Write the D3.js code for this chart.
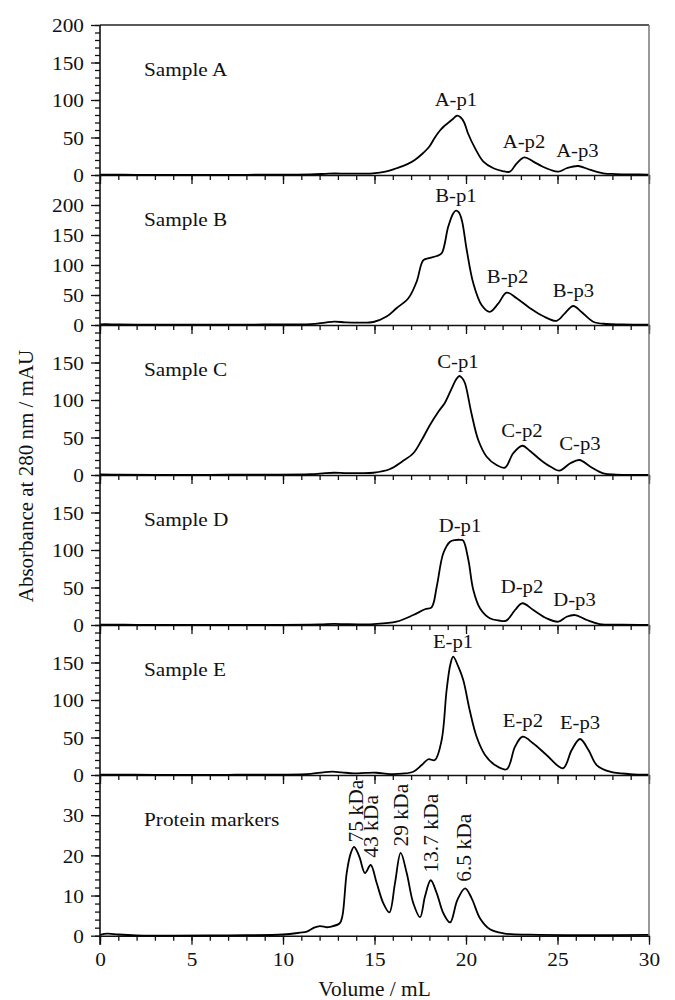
<!DOCTYPE html>
<html>
<head>
<meta charset="utf-8">
<script src="https://cdn.jsdelivr.net/npm/d3@7"></script>
<style>
body { margin: 0; background: #fff; }
text { font-family: "Liberation Serif", "Times New Roman", serif; fill: #111; }
</style>
</head>
<body>
<svg id="chart" width="675" height="1000"></svg>
<script>
// chromatogram traces: [volume (mL), absorbance (mAU)]
const sampleA = [[0,0.5],[2,0.3],[5,0.2],[8,0.3],[10,0.5],[11.5,0.8],[12.3,1.5],[12.8,2],[13.4,1.8],[14,1.8],[14.9,2.2],[15.6,4.5],[16.2,9],[16.8,14.5],[17.2,20],[17.6,28],[18.0,38],[18.3,50],[18.6,60],[18.8,65],[19.0,69],[19.25,74],[19.5,79],[19.7,77],[19.9,70],[20.1,56],[20.5,35.5],[20.95,17.8],[21.5,9],[22.0,5.3],[22.4,4.4],[22.77,15.6],[23.19,23.6],[23.68,17.8],[24.2,11],[24.6,7],[25.05,4.4],[25.5,9],[26.14,12],[26.8,6.7],[27.5,2.2],[28.2,1.3],[29,0.8],[30,0.5]];
const sampleB = [[0,1],[0.3,1.5],[1,0.8],[3,0.5],[6,0.5],[9,0.8],[11.5,1.5],[12.3,4],[12.8,5.5],[13.4,4.5],[14,4],[14.94,5],[15.66,14],[16.2,28],[16.85,44.5],[17.3,72],[17.67,108],[18.03,112],[18.4,115],[18.67,119.5],[19.03,164],[19.3,186],[19.45,190.5],[19.6,188],[19.77,175],[20.04,125],[20.4,69.5],[20.86,33],[21.3,22],[21.77,36],[22.22,54],[22.77,44.5],[23.5,28],[24.2,15],[24.95,7],[25.4,19.5],[25.86,31.7],[26.3,22],[26.95,5.5],[27.7,1.7],[28.5,1],[30,0.5]];
const sampleC = [[0,0.8],[1,0.5],[3,0.3],[6,0.3],[9,0.5],[11.5,1],[12.3,2.5],[12.8,3],[13.4,2.5],[14,2.5],[14.94,3],[15.85,8],[16.5,17.8],[17.12,29],[17.58,46.7],[18.03,66.7],[18.49,84.4],[18.85,96.4],[19.22,115.6],[19.45,127],[19.64,132],[19.8,129],[19.95,122],[20.3,82],[20.67,46.7],[21.13,24.4],[21.67,13.3],[22.13,9.8],[22.58,29],[23.08,39],[23.5,32],[24.2,17.8],[24.7,10],[25.1,5.8],[25.7,15.6],[26.2,20],[26.8,11],[27.5,2.2],[28.2,0.5],[30,0.3]];
const sampleD = [[0,0.5],[2,0.3],[6,0.2],[10,0.3],[12,0.8],[12.8,1.5],[13.5,1],[14.94,1.3],[16.2,4.4],[17.12,13.3],[17.76,21],[18.12,23.6],[18.4,51],[18.76,95.6],[19.13,111],[19.4,113.3],[19.7,113.5],[19.85,112.4],[20.13,86.7],[20.4,46.7],[20.77,22],[21.3,9],[21.8,6],[22.2,5.8],[22.68,20],[23.08,29],[23.68,20],[24.4,9],[25.05,4.4],[25.5,11],[25.96,13.3],[26.6,6.7],[27.3,1.3],[28.5,0.4],[30,0.2]];
const sampleE = [[0,0.5],[3,0.3],[7,0.3],[10,0.5],[11.5,1.5],[12.2,3.5],[12.7,4.4],[13.2,3.5],[13.9,2.2],[14.5,2.8],[15.1,3],[15.85,1.3],[16.5,1.8],[17.12,4.4],[17.58,13.3],[17.94,21],[18.3,20],[18.67,46.7],[18.94,113],[19.15,148],[19.3,157.7],[19.58,144.4],[19.85,126.7],[20.2,86.7],[20.58,51],[21.04,26.7],[21.58,13.3],[22.22,7.6],[22.68,37.8],[23.09,51],[23.68,42],[24.4,26.7],[25.3,9],[25.77,33],[26.23,48],[26.7,33],[27.14,13.3],[27.87,4.4],[28.96,1.3],[30,0.5]];
const markers = [[0,0.2],[0.4,0.5],[1,0.3],[2,0.1],[4,0],[7,0.1],[10,0.3],[10.93,0.75],[11.3,1],[11.7,2],[12.02,2.4],[12.4,2.1],[12.57,2.2],[13.1,3.1],[13.25,5],[13.48,15.6],[13.7,20.5],[13.88,22.1],[14.05,21],[14.2,19.3],[14.48,15.6],[14.79,17.6],[15.12,13.1],[15.48,8.1],[15.81,5.8],[16.12,13.1],[16.43,20.6],[16.76,15.6],[17.12,8.1],[17.49,4.6],[17.76,9.8],[18.07,13.8],[18.4,10.6],[18.76,5.6],[19.13,3.3],[19.53,8.9],[19.95,11.8],[20.31,9.3],[20.77,4.3],[21.31,1.6],[22.04,0.6],[23.5,0.25],[30,0.2]];

// peak labels: [text, volume, absorbance at baseline of label]
const peaksA = [["A-p1",19.45,92],["A-p2",23.17,35.6],["A-p3",26.09,24.4]];
const peaksB = [["B-p1",19.45,205.5],["B-p2",22.27,69.5],["B-p3",25.87,47.2]];
const peaksC = [["C-p1",19.56,143],["C-p2",23.06,51],["C-p3",26.23,33.3]];
const peaksD = [["D-p1",19.67,124.4],["D-p2",23.06,42.3],["D-p3",25.93,25.3]];
const peaksE = [["E-p1",19.29,168.9],["E-p2",23.11,63.6],["E-p3",26.23,60.9]];
// marker labels (rotated): [text, volume, absorbance where text starts]
const markerLabels = [["75 kDa",14.37,23.2],["43 kDa",15.19,19.4],["29 kDa",16.83,22.2],["13.7 kDa",18.47,15.7],["6.5 kDa",20.27,13.4]];

const sampleNames = ["Sample A","Sample B","Sample C","Sample D","Sample E","Protein markers"];
const yMax = [200, 250, 200, 200, 200, 40];
const yTicks = [[0,50,100,150,200],[0,50,100,150,200],[0,50,100,150],[0,50,100,150],[0,50,100,150],[0,10,20,30]];
const yMinor = [10, 12.5, 10, 10, 10, 2];
const xTicks = [0,5,10,15,20,25,30];

const svg = d3.select('#chart');
const left = 100, right = 649, top0 = 25;
const heights = [150,150,150,150,150,160.7];
const SX = 1.12; // horizontal stretch of the original figure's type

const x = d3.scaleLinear().domain([0,30]).range([left,right]);

function stretchText(g, px, py, str, size, anchor) {
    return g.append('text')
        .attr('transform', `translate(${px},${py}) scale(${SX},1)`)
        .attr('text-anchor', anchor)
        .style('font-size', size + 'px')
        .text(str);
}

const panels = [
    { data: sampleA, peaks: peaksA },
    { data: sampleB, peaks: peaksB },
    { data: sampleC, peaks: peaksC },
    { data: sampleD, peaks: peaksD },
    { data: sampleE, peaks: peaksE },
    { data: markers, peaks: [] }
];

let panelTop = top0;
panels.forEach((p, i) => {
    const h = heights[i];
    const bottom = panelTop + h;
    const y = d3.scaleLinear().domain([0, yMax[i]]).range([bottom, panelTop]);
    const last = i === panels.length - 1;

    // minor y ticks
    const minors = d3.range(0, yMax[i] + 0.001, yMinor[i]);
    svg.append('g').attr('transform', `translate(${left},0)`)
        .call(d3.axisLeft(y).tickValues(minors).tickSize(5).tickSizeOuter(0).tickFormat(''))
        .call(g => g.select('.domain').remove())
        .call(g => g.selectAll('line').attr('stroke', '#111').attr('stroke-width', 1.3));

    // major y ticks + labels
    const yAx = svg.append('g').attr('transform', `translate(${left},0)`)
        .call(d3.axisLeft(y).tickValues(yTicks[i]).tickSize(9).tickSizeOuter(0).tickFormat(d3.format('d')))
        .call(g => g.select('.domain').remove())
        .call(g => g.selectAll('line').attr('stroke', '#111').attr('stroke-width', 1.3));
    yAx.selectAll('text')
        .attr('x', null).attr('dy', '0.35em')
        .attr('transform', `translate(-16,0) scale(${SX},1)`)
        .style('font-size', '19px').style('font-family', null).attr('fill', '#111');

    // x ticks below each panel
    svg.append('g').attr('transform', `translate(0,${bottom})`)
        .call(d3.axisBottom(x).tickValues(d3.range(0, 31, 1)).tickSize(5).tickSizeOuter(0).tickFormat(''))
        .call(g => g.select('.domain').remove())
        .call(g => g.selectAll('line').attr('stroke', '#111').attr('stroke-width', 1.3));
    const xAx = svg.append('g').attr('transform', `translate(0,${bottom})`)
        .call(d3.axisBottom(x).tickValues(xTicks).tickSize(9).tickSizeOuter(0)
            .tickFormat(last ? d3.format('d') : ''))
        .call(g => g.select('.domain').attr('stroke', '#111').attr('stroke-width', 1.6))
        .call(g => g.selectAll('line').attr('stroke', '#111').attr('stroke-width', 1.3));
    xAx.selectAll('text')
        .attr('y', null).attr('dy', null)
        .attr('transform', `translate(0,30) scale(${SX},1)`)
        .style('font-size', '19px').style('font-family', null).attr('fill', '#111');

    // trace
    const line = d3.line().x(d => x(d[0])).y(d => y(d[1])).curve(d3.curveCatmullRom.alpha(0.5));
    svg.append('path').datum(p.data)
        .attr('d', line).attr('fill', 'none')
        .attr('stroke', '#000').attr('stroke-width', 1.8).attr('stroke-linejoin', 'round');

    // sample name
    stretchText(svg, 144, panelTop + 51, sampleNames[i], 19, 'start');

    // peak labels
    p.peaks.forEach(d => stretchText(svg, x(d[1]), y(d[2]), d[0], 18.5, 'middle'));

    if (last) {
        markerLabels.forEach(d => {
            svg.append('text')
                .attr('transform', `translate(${x(d[1])},${y(d[2])}) rotate(-90)`)
                .attr('text-anchor', 'start')
                .style('font-size', '21.5px')
                .text(d[0]);
        });
    }

    panelTop = bottom;
});

// frame: top border, left axis, right border
svg.append('line').attr('x1', left).attr('x2', right).attr('y1', top0).attr('y2', top0)
    .attr('stroke', '#222').attr('stroke-width', 1.5);
svg.append('line').attr('x1', left).attr('x2', left).attr('y1', top0).attr('y2', panelTop + 9)
    .attr('stroke', '#111').attr('stroke-width', 1.6);
svg.append('line').attr('x1', right).attr('x2', right).attr('y1', top0).attr('y2', panelTop)
    .attr('stroke', '#777').attr('stroke-width', 1.5);

// axis titles
svg.append('text')
    .attr('transform', `translate(${(left + right) / 2},996) scale(1.07,1)`)
    .attr('text-anchor', 'middle').style('font-size', '20px')
    .text('Volume / mL');
svg.append('text')
    .attr('transform', `translate(33,476) rotate(-90)`)
    .attr('text-anchor', 'middle').style('font-size', '21px')
    .text('Absorbance at 280 nm / mAU');
</script>
</body>
</html>
